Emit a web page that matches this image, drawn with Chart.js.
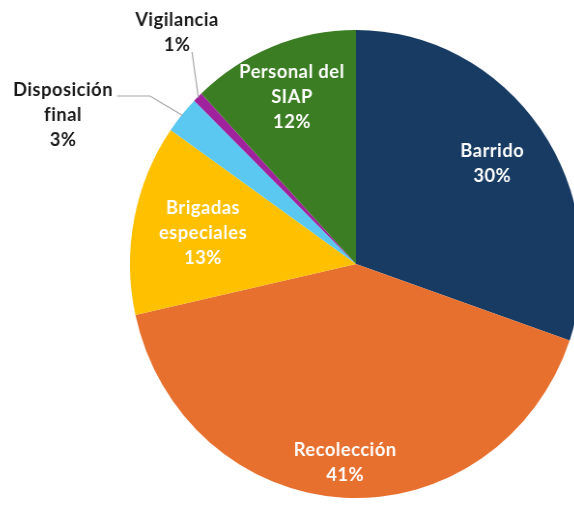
<!DOCTYPE html>
<html>
<head>
<meta charset="utf-8">
<script src="https://cdn.jsdelivr.net/npm/chart.js@4/dist/chart.umd.min.js"></script>
<style>
  html, body { margin: 0; padding: 0; background: #fff; overflow: hidden; }
  /* the original pie is slightly narrower than it is tall */
  #wrap { position: relative; width: 712px; height: 506px; transform: scaleX(0.966); transform-origin: 356px 0; }
</style>
</head>
<body>
<div id="wrap"><canvas id="pieChart"></canvas></div>
<script>
// Data (shares of total, %)
const categories = ['Barrido', 'Recolección', 'Brigadas especiales', 'Disposición final', 'Vigilancia', 'Personal del SIAP'];
const labelLines = [['Barrido'], ['Recolección'], ['Brigadas', 'especiales'], ['Disposición', 'final'], ['Vigilancia'], ['Personal del', 'SIAP']];
const shares = [30.3, 41.2, 13.2, 2.6, 0.7, 12.0];
const colors = ['#173b63', '#e8702f', '#ffc000', '#5ac8f0', '#a0229c', '#3a7d22'];

const squeeze = 0.966;
const cxPage = 356;
// page x -> canvas x (canvas is squeezed around cxPage)
const px = x => cxPage + (x - cxPage) / squeeze;

// inner label radius (fraction of outer radius) and outside label placement
const innerRadius = [0.74, 0.85, 0.69, null, null, 0.77];
const outside = {
    3: { x: px(63), y: 90, elbow: [[px(150), 96], [px(117), 96]] },
    4: { x: px(177), y: 20, elbow: [[px(192), 52]] }
};

const labelPlugin = {
    id: 'sliceLabels',
    afterDatasetsDraw(chart) {
        const ctx = chart.ctx;
        const arcs = chart.getDatasetMeta(0).data;
        ctx.save();
        ctx.font = 'bold 19px Lato, "DejaVu Sans", sans-serif';
        ctx.letterSpacing = '0.5px';
        ctx.textAlign = 'center';
        ctx.textBaseline = 'middle';
        arcs.forEach((arc, i) => {
            const p = arc.getProps(['x', 'y', 'startAngle', 'endAngle', 'outerRadius'], true);
            const mid = (p.startAngle + p.endAngle) / 2;
            const lines = labelLines[i].concat([Math.round(shares[i]) + '%']);
            if (innerRadius[i] !== null) {
                const r = p.outerRadius * innerRadius[i];
                const cx = p.x + Math.cos(mid) * r;
                const cy = p.y + Math.sin(mid) * r;
                const top = cy - (lines.length - 1) * 25 / 2;
                ctx.fillStyle = '#ffffff';
                lines.forEach((t, k) => ctx.fillText(t, cx, top + k * 25));
            } else {
                const o = outside[i];
                const sx = p.x + Math.cos(mid) * (p.outerRadius - 1);
                const sy = p.y + Math.sin(mid) * (p.outerRadius - 1);
                ctx.strokeStyle = '#a6a6a6';
                ctx.lineWidth = 1.2;
                ctx.beginPath();
                ctx.moveTo(sx, sy);
                o.elbow.forEach(pt => ctx.lineTo(pt[0], pt[1]));
                ctx.stroke();
                ctx.fillStyle = '#1a1a1a';
                lines.forEach((t, k) => ctx.fillText(t, o.x, o.y + k * 25));
            }
        });
        ctx.restore();
    }
};

new Chart(document.getElementById('pieChart').getContext('2d'), {
    type: 'pie',
    data: {
        labels: categories,
        datasets: [{
            data: shares,
            backgroundColor: colors,
            borderWidth: 0
        }]
    },
    options: {
        responsive: true,
        maintainAspectRatio: false,
        animation: false,
        layout: { padding: { top: 30, bottom: 8, left: 0, right: 0 } },
        plugins: {
            legend: { display: false },
            tooltip: { enabled: false }
        }
    },
    plugins: [labelPlugin]
});
</script>
</body>
</html>
